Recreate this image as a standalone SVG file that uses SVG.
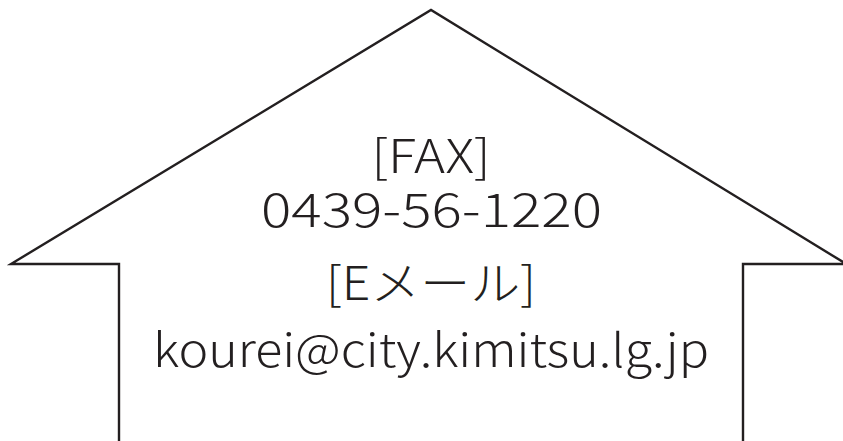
<svg xmlns="http://www.w3.org/2000/svg" width="843" height="441" viewBox="0 0 843 441">
<style>
.outline{fill:none;stroke:#231f20;stroke-width:2.4;stroke-linejoin:miter}
.t{font-family:"Noto Sans CJK JP","Noto Sans",sans-serif;font-size:46px;font-weight:300;fill:#231f20;text-anchor:middle}
</style>
<rect width="843" height="441" fill="#ffffff"/>
<g id="house">
<polyline class="outline" points="119,441 119,264 11,264 431,10 843,262 843,264 743,264 743,441"/>
</g>
<g id="labels">
<text class="t" x="431" y="173" textLength="119" lengthAdjust="spacingAndGlyphs">[FAX]</text>
<text class="t" x="431.5" y="227" textLength="341" lengthAdjust="spacingAndGlyphs">0439-56-1220</text>
<text class="t" x="431" y="300" textLength="210" lengthAdjust="spacingAndGlyphs">[Eメール]</text>
<text class="t" x="431" y="367" textLength="556" lengthAdjust="spacingAndGlyphs">kourei@city.kimitsu.lg.jp</text>
</g>
</svg>
